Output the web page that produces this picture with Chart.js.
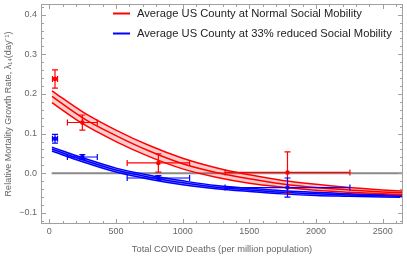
<!DOCTYPE html>
<html>
<head>
<meta charset="utf-8">
<script src="https://cdn.jsdelivr.net/npm/chart.js@4"></script>
<style>
  body { margin: 0; background: #fff; }
</style>
</head>
<body>
<canvas id="myChart" width="407" height="259"></canvas>
<script>
// model curves
const curveX = [20, 250, 500, 750, 1000, 1250, 1500, 1750, 2000, 2250, 2500, 2700];
const redUpper = [0.208, 0.155, 0.109, 0.070, 0.038, 0.014, -0.004, -0.018, -0.028, -0.036, -0.042, -0.046];
const redMid   = [0.194, 0.140, 0.095, 0.056, 0.024, 0.002, -0.014, -0.027, -0.036, -0.042, -0.047, -0.050];
const redLower = [0.178, 0.125, 0.080, 0.042, 0.011, -0.010, -0.025, -0.035, -0.043, -0.048, -0.052, -0.054];
const blueUpper = [0.066, 0.039, 0.013, -0.005, -0.019, -0.031, -0.038, -0.044, -0.048, -0.052, -0.054, -0.055];
const blueMid   = [0.061, 0.034, 0.008, -0.010, -0.024, -0.035, -0.042, -0.048, -0.052, -0.055, -0.057, -0.058];
const blueLower = [0.056, 0.029, 0.003, -0.015, -0.029, -0.039, -0.046, -0.052, -0.056, -0.058, -0.060, -0.061];

// measured points with error bars
const pointX    = [43, 248, 818, 1786];
const pointXErr = [19, 112, 234, 468];
const redY      = [0.238, 0.128, 0.026, 0.002];
const redYErr   = [0.023, 0.019, 0.023, 0.052];
const blueY     = [0.087, 0.041, -0.012, -0.036];
const blueYErr  = [0.011, 0.006, 0.006, 0.024];

const xTicks = [0, 500, 1000, 1500, 2000, 2500];
const yTicks = [-0.1, 0, 0.1, 0.2, 0.3, 0.4];
const legendLabels = ['Average US County at Normal Social Mobility', 'Average US County at 33% reduced Social Mobility'];

const RED = '#ff0000';
const BLUE = '#0000ff';
const FONT = '"Liberation Sans", Arial, sans-serif';

function pts(ys) {
    return curveX.map((x, i) => ({ x: x, y: ys[i] }));
}
function band(ys, color, fillTarget, fillColor) {
    return {
        data: pts(ys),
        borderColor: color,
        borderWidth: 1.5,
        pointRadius: 0,
        tension: 0.4,
        cubicInterpolationMode: 'monotone',
        fill: fillTarget,
        backgroundColor: fillColor
    };
}

// error bars, frame ticks, zero line and legend
const extras = {
    id: 'extras',
    beforeDatasetsDraw(chart) {
        const { ctx, chartArea: a, scales: { x, y } } = chart;
        ctx.save();
        ctx.beginPath();
        ctx.rect(a.left, a.top, a.right - a.left, a.bottom - a.top);
        ctx.clip();
        ctx.strokeStyle = '#8a8a8a';
        ctx.lineWidth = 1.8;
        ctx.beginPath();
        ctx.moveTo(x.getPixelForValue(18), y.getPixelForValue(0));
        ctx.lineTo(x.getPixelForValue(2700), y.getPixelForValue(0));
        ctx.stroke();
        ctx.restore();
    },
    afterDatasetsDraw(chart) {
        const { ctx, scales: { x, y } } = chart;
        const cap = 3;
        const series = [[redY, redYErr, RED], [blueY, blueYErr, BLUE]];
        ctx.save();
        ctx.lineWidth = 1.2;
        series.forEach(([ys, errs, color]) => {
            ctx.strokeStyle = color;
            pointX.forEach((px, i) => {
                const cx = x.getPixelForValue(px);
                const cy = y.getPixelForValue(ys[i]);
                const x0 = x.getPixelForValue(px - pointXErr[i]);
                const x1 = x.getPixelForValue(px + pointXErr[i]);
                const y0 = y.getPixelForValue(ys[i] + errs[i]);
                const y1 = y.getPixelForValue(ys[i] - errs[i]);
                ctx.beginPath();
                ctx.moveTo(x0, cy); ctx.lineTo(x1, cy);
                ctx.moveTo(x0, cy - cap); ctx.lineTo(x0, cy + cap);
                ctx.moveTo(x1, cy - cap); ctx.lineTo(x1, cy + cap);
                ctx.moveTo(cx, y0); ctx.lineTo(cx, y1);
                ctx.moveTo(cx - cap, y0); ctx.lineTo(cx + cap, y0);
                ctx.moveTo(cx - cap, y1); ctx.lineTo(cx + cap, y1);
                ctx.stroke();
            });
        });
        ctx.restore();
    },
    afterDraw(chart) {
        const { ctx, chartArea: a, scales: { x, y } } = chart;
        ctx.save();
        ctx.strokeStyle = '#a0a0a0';
        ctx.lineWidth = 1;
        ctx.strokeRect(a.left + 0.5, a.top + 0.5, a.right - a.left - 1, a.bottom - a.top - 1);

        // ticks point inward on all four sides
        ctx.beginPath();
        for (let v = 0; v <= 2600; v += 100) {
            const px = Math.round(x.getPixelForValue(v)) + 0.5;
            const len = v % 500 === 0 ? 5 : 3;
            ctx.moveTo(px, a.bottom); ctx.lineTo(px, a.bottom - len);
            ctx.moveTo(px, a.top); ctx.lineTo(px, a.top + len);
        }
        for (let k = -6; k <= 21; k++) {
            const py = Math.round(y.getPixelForValue(k * 0.02)) + 0.5;
            const len = k % 5 === 0 ? 5 : 3;
            ctx.moveTo(a.left, py); ctx.lineTo(a.left + len, py);
            ctx.moveTo(a.right, py); ctx.lineTo(a.right - len, py);
        }
        ctx.stroke();

        // legend
        const colors = [RED, BLUE];
        ctx.font = '11.2px ' + FONT;
        ctx.textBaseline = 'middle';
        legendLabels.forEach((label, i) => {
            const ly = 13.5 + i * 20;
            ctx.strokeStyle = colors[i];
            ctx.lineWidth = 2;
            ctx.beginPath();
            ctx.moveTo(113, ly); ctx.lineTo(130, ly);
            ctx.stroke();
            ctx.fillStyle = '#222';
            ctx.fillText(label, 137, ly);
        });
        ctx.restore();
    }
};

const ctx = document.getElementById('myChart').getContext('2d');

const myChart = new Chart(ctx, {
    type: 'line',
    data: {
        datasets: [
            band(redUpper, RED, '+2', 'rgba(255, 0, 0, 0.2)'),
            band(redMid, RED, false),
            band(redLower, RED, false),
            band(blueUpper, BLUE, '+2', 'rgba(0, 0, 255, 0.35)'),
            band(blueMid, BLUE, false),
            band(blueLower, BLUE, false),
            {
                data: pointX.map((v, i) => ({ x: v, y: redY[i] })),
                showLine: false,
                pointRadius: 2.3,
                pointBackgroundColor: RED,
                pointBorderWidth: 0
            },
            {
                data: pointX.map((v, i) => ({ x: v, y: blueY[i] })),
                showLine: false,
                pointRadius: 2.3,
                pointBackgroundColor: BLUE,
                pointBorderWidth: 0
            }
        ]
    },
    options: {
        responsive: false,
        animation: false,
        layout: { padding: { left: 0, right: 4, top: 1, bottom: 0 } },
        plugins: {
            legend: { display: false },
            tooltip: { enabled: false }
        },
        scales: {
            x: {
                type: 'linear',
                min: -62,
                max: 2652,
                grid: { display: false, drawTicks: false },
                border: { display: false },
                afterBuildTicks: (s) => { s.ticks = xTicks.map(v => ({ value: v })); },
                afterFit: (s) => { s.height = 35; s.paddingLeft = 0; s.paddingRight = 0; },
                ticks: {
                    padding: 2,
                    maxRotation: 0,
                    color: '#666',
                    font: { family: FONT, size: 9 },
                    callback: (v) => String(v)
                },
                title: {
                    display: true,
                    text: 'Total COVID Deaths (per million population)',
                    color: '#666',
                    font: { family: FONT, size: 9.3 },
                    padding: { top: 0, bottom: 4 }
                }
            },
            y: {
                min: -0.128,
                max: 0.427,
                grid: { display: false, drawTicks: false },
                border: { display: false },
                afterBuildTicks: (s) => { s.ticks = yTicks.map(v => ({ value: v })); },
                afterFit: (s) => { s.width = 41; s.paddingTop = 0; s.paddingBottom = 0; },
                ticks: {
                    padding: 4,
                    color: '#666',
                    font: { family: FONT, size: 9 },
                    callback: (v) => Math.abs(v) < 1e-9 ? '0.0' : v.toFixed(1).replace('-', '\u2212')
                },
                title: {
                    display: true,
                    text: 'Relative Mortality Growth Rate, \u03bb\u2081\u2084(day\u207b\u00b9)',
                    color: '#666',
                    font: { family: FONT, size: 9 },
                    padding: { top: 3, bottom: 0 }
                }
            }
        }
    },
    plugins: [extras]
});
</script>
</body>
</html>
